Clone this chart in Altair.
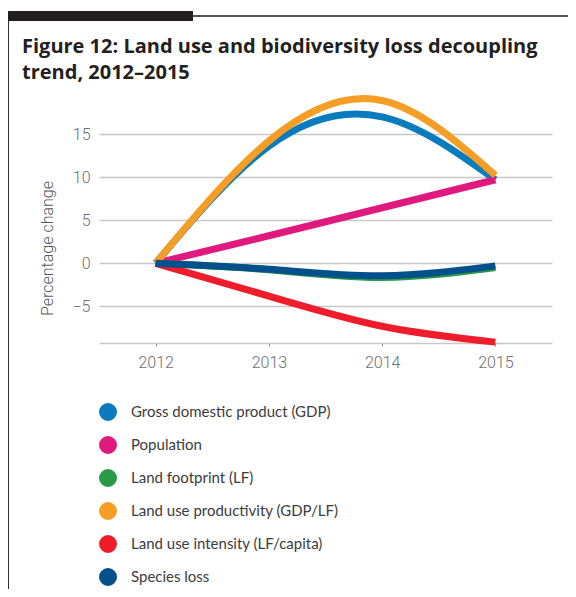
import altair as alt
import pandas as pd

years = [2012, 2013, 2014, 2015]
series_names = [
    "Gross domestic product (GDP)",
    "Population",
    "Land footprint (LF)",
    "Land use productivity (GDP/LF)",
    "Land use intensity (LF/capita)",
    "Species loss",
]
gdp = [0, 13.6, 17.0, 9.7]
population = [0, 3.2, 6.45, 9.7]
land_footprint = [0, -0.75, -1.65, -0.5]
land_use_productivity = [0, 14.2, 18.9, 10.2]
land_use_intensity = [0, -3.8, -7.3, -9.15]
species_loss = [0, -0.7, -1.45, -0.3]
colors = ["#0a7bbd", "#e0197f", "#2a9a47", "#f59d25", "#ee1d2c", "#04508a"]

all_series = [gdp, population, land_footprint, land_use_productivity,
              land_use_intensity, species_loss]
rows = []
for i, (name, vals) in enumerate(zip(series_names, all_series)):
    for y, v in zip(years, vals):
        rows.append({"year": y, "value": v, "series": name, "order": i})
df = pd.DataFrame(rows)

W, H = 453, 252
PL, PT = 91, 83
AXIS_FONT = "Roboto"

lines = alt.Chart(df).mark_line(
    interpolate="natural", strokeWidth=7, strokeCap="butt"
).encode(
    x=alt.X("year:Q", scale=alt.Scale(domain=[2011.5, 2015.5], nice=False, zero=False),
            axis=alt.Axis(values=years, format="d", title=None, grid=False,
                          domainColor="#c8c8c8", domainWidth=1.5,
                          tickColor="#888888", tickSize=3, tickWidth=1,
                          labelFont=AXIS_FONT, labelFontSize=16, labelFontWeight=300,
                          labelColor="#6d6e71", labelPadding=8)),
    y=alt.Y("value:Q", scale=alt.Scale(domain=[-9.25, 20], nice=False, zero=False),
            axis=alt.Axis(values=[-5, 0, 5, 10, 15], title="Percentage change",
                          grid=True, gridColor="#c8c8c8", gridWidth=1.5,
                          domain=False, ticks=False,
                          labelFont=AXIS_FONT, labelFontSize=16, labelFontWeight=300,
                          labelColor="#6d6e71", labelPadding=9,
                          titleFont=AXIS_FONT, titleFontSize=16,
                          titleFontWeight=300, titleColor="#58595b",
                          titleX=-52, titleY=157, titleAngle=270,
                          titleAlign="center", titleBaseline="middle")),
    color=alt.Color("series:N", sort=series_names,
                    scale=alt.Scale(domain=series_names, range=colors),
                    legend=alt.Legend(title=None, orient="none", legendX=0, legendY=312,
                                      direction="vertical",
                                      symbolType="circle", symbolSize=81,
                                      symbolStrokeWidth=9, symbolFillColor="transparent",
                                      labelFont="Lato", labelFontSize=15,
                                      labelColor="#3c3c3c", labelOffset=14,
                                      labelLimit=400,
                                      rowPadding=-13, padding=0)),
    order=alt.Order("order:Q"),
)

frame_left = alt.Chart(df).mark_rule(color="#333333", strokeWidth=1.5).encode(
    x=alt.value(7.5 - 99), y=alt.value(11 - 91), y2=alt.value(600 - 91)
)
frame_top_thin = alt.Chart(df).mark_rule(color="#555555", strokeWidth=1.5).encode(
    x=alt.value(193 - 99), x2=alt.value(580 - 99), y=alt.value(16 - 91)
)
frame_top_bar = alt.Chart(df).mark_rule(color="#231f20", strokeWidth=10, strokeCap="butt").encode(
    x=alt.value(7 - 99), x2=alt.value(193 - 99), y=alt.value(16 - 91)
)

chart = alt.layer(frame_left, frame_top_thin, frame_top_bar, lines).properties(
    width=W, height=H,
    padding={"left": PL, "top": PT, "right": 560 - PL - W, "bottom": 581 - PT - H},
    autosize=alt.AutoSizeParams(type="none"),
    title=alt.TitleParams(
        text=["Figure 12: Land use and biodiversity loss decoupling", "trend, 2012\u20132015"],
        anchor="start", frame="group", dx=-77, dy=73,
        font="Open Sans", fontSize=20, fontWeight="bold", color="#231f20",
        lineHeight=26, baseline="top", offset=0,
    ),
).configure_view(stroke=None)

chart.save("out.html", embed_options={"renderer": "svg", "actions": False})
